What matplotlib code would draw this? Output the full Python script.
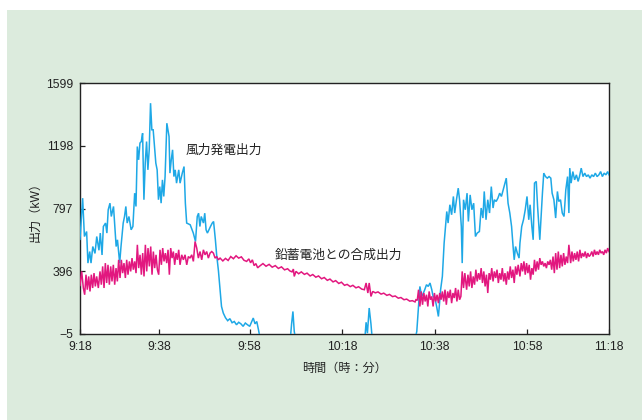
import matplotlib
matplotlib.use('Agg')
import matplotlib.pyplot as plt
from matplotlib.patches import Rectangle

plt.rcParams['font.family'] = ['Liberation Sans', 'Noto Sans CJK JP']
plt.rcParams['axes.unicode_minus'] = True

# ---------------- data ----------------
# time axis in minutes after 9:18
x_tick_pos = [0, 17.9, 38.5, 59.5, 80.5, 101.4, 120]
x_tick_labels = ['9:18', '9:38', '9:58', '10:18', '10:38', '10:58', '11:18']
y_ticks = [-5, 396, 797, 1198, 1599]

wind_t = [0, 0.6, 1.0, 1.5, 1.8, 2.2, 2.5, 2.9, 3.4, 3.8, 4.3, 4.6, 5.0, 5.3, 5.8,
          6.1, 6.4, 6.8, 7.1, 7.6, 7.9, 8.2, 8.5, 9.0, 9.3, 9.8, 10.1, 10.4, 10.7,
          11.1, 11.6, 12.0, 12.4, 12.7, 13.0, 13.3, 13.6, 13.9, 14.2, 14.5, 14.8,
          15.1, 15.4, 15.7, 16.0, 16.3, 16.6, 16.9, 17.2, 17.5, 17.8, 18.1, 18.4,
          18.7, 19.0, 19.3, 19.7, 20.2, 20.4, 20.7, 21.0, 21.3, 21.6, 21.9, 22.4,
          22.7, 23.2, 23.6, 23.9, 24.2, 25.0, 25.7, 26.2, 26.6, 26.9, 27.2, 27.5,
          28.0, 28.3, 28.6, 28.9, 29.6, 30.0, 30.3, 30.7, 31.0, 31.4, 31.7, 32.1,
          32.5, 33.0, 33.5, 34.0, 34.5, 35.0, 35.5, 36.0, 36.5, 37.0, 37.5, 38.0,
          38.5, 38.9, 39.3, 39.7, 40.1, 40.5, 40.9,
          47.7, 48.0, 48.3, 48.6, 48.9,
          64.6, 64.9, 65.2, 65.6, 66.0, 66.3,
          76.0, 76.4, 76.8, 77.1, 77.5, 77.9, 78.2, 78.6, 79.0, 79.4, 79.8, 80.1,
          80.5, 80.9, 81.3, 81.5, 81.8, 82.2, 82.6, 83.2, 83.5, 83.9, 84.3, 84.7,
          85.0, 85.4, 85.8, 86.1, 86.5, 86.7, 87.0, 87.4, 87.8, 88.1, 88.5, 88.9,
          89.3, 89.7, 90.1, 90.6, 91.0, 91.4, 91.7, 92.1, 92.5, 92.9, 93.3, 93.7,
          94.0, 94.4, 94.8, 95.2, 95.6, 96.0, 96.3, 96.7, 97.1, 97.5, 97.9, 98.3,
          98.5, 98.8, 99.2, 99.6, 99.8, 100.2, 100.6, 101.0, 101.4, 101.8, 102.1,
          102.5, 102.8, 103.1, 103.5, 103.8, 104.3, 104.6, 104.9, 105.2, 105.6,
          106.0, 106.4, 106.8, 107.1, 107.5, 107.9, 108.3, 108.6, 109.0, 109.4,
          109.8, 110.2, 110.6, 110.9, 111.1, 111.4, 111.8, 112.2, 112.6, 113.0,
          113.3, 113.7, 114.1, 114.5, 114.9, 115.3, 115.7, 116.1, 116.5, 116.9,
          117.3, 117.7, 118.1, 118.5, 118.9, 119.3, 119.7, 120.0]
wind_kw = [600, 863, 618, 650, 448, 522, 448, 554, 510, 618, 530, 640, 500, 682, 704,
           640, 789, 831, 746, 810, 682, 554, 597, 448, 554, 704, 746, 810, 704,
           746, 661, 682, 895, 810, 1193, 1108, 1215, 1225, 1278, 853, 1087,
           1225, 1044, 1172, 1470, 1300, 1300, 1193, 1087, 1044, 853, 937, 831,
           980, 874, 1001, 1342, 1257, 1023, 1108, 1172, 1001, 1044, 959, 1044,
           959, 1023, 1065, 831, 704, 693, 640, 586, 746, 767, 682, 746,
           704, 767, 661, 640, 682, 704, 714, 600, 500, 400, 299, 171,
           129, 99, 80, 93, 67, 75, 54, 70, 60, 44, 65, 54,
           44, 70, 97, 60, 75, 20, -40,
           -40, 60, 139, 12, -40,
           -40, 70, 0, 161, 60, -40,
           -40, 12, 171, 299, 235, 257, 278, 310, 299, 321, 278, 235,
           225, 171, 107, 171, 278, 363, 576, 778, 704, 821, 757, 874,
           768, 853, 927, 853, 682, 448, 853, 789, 895, 714, 884, 789,
           831, 618, 640, 650, 800, 736, 906, 725, 853, 768, 937, 800,
           853, 842, 863, 895, 874, 916, 948, 991, 831, 768, 682, 533,
           469, 554, 512, 480, 576, 682, 725, 789, 874, 725, 821,
           682, 597, 959, 970, 810, 597, 746, 895, 1023, 1001,
           991, 1001, 991, 895, 853, 736, 906, 842, 853, 768,
           746, 916, 1001, 768, 1055, 959, 1033, 980, 1012, 970,
           1001, 1055, 1001, 1023, 1001, 1012, 991, 1012, 1001, 1023,
           1001, 1012, 1033, 1001, 1023, 1012, 1033, 1012]

combined_t = [0.0, 0.38, 0.76, 1.06, 1.36, 1.66, 1.97, 2.27, 2.57, 2.87, 3.18, 3.48,
              3.78, 4.16, 4.54, 4.84, 5.14, 5.45, 5.75, 6.05, 6.35, 6.66, 6.96, 7.26,
              7.56, 7.87, 8.17, 8.47, 8.77, 9.08, 9.38, 9.68, 9.98, 10.29, 10.59,
              10.89, 11.20, 11.50, 11.80, 12.10, 12.41, 12.71, 13.01, 13.31, 13.62,
              13.92, 14.22, 14.52, 14.83, 15.13, 15.43, 15.73, 16.04, 16.34, 16.64,
              16.94, 17.25, 17.55, 17.85, 18.15, 18.46, 18.76, 19.06, 19.36, 19.67,
              19.97, 20.27, 20.57, 20.88, 21.18, 21.48, 21.79, 22.09, 22.39, 22.69,
              23.07, 23.45, 23.83, 24.21, 24.58, 24.96, 25.34, 25.72, 26.10, 26.48,
              26.85, 27.23, 27.61, 27.99, 28.37, 28.74, 29.12, 29.50, 29.88, 30.26,
              30.64, 31.01, 31.39, 31.77, 32.4, 33.0, 33.6, 34.2, 34.8, 35.4, 36.0,
              36.6, 37.2, 37.8, 38.3, 38.7, 39.1, 39.5, 39.9, 40.3, 40.8, 41.5, 42.2,
              42.9, 43.6, 44.3, 45.0, 45.7, 46.4, 47.1, 47.6, 48.1, 48.4, 48.6, 49.0,
              49.6, 50.2, 50.9, 51.5, 52.2, 52.8, 53.5, 54.1, 54.8, 55.4, 56.1, 56.7,
              57.4, 58.0, 58.7, 59.3, 60.0, 60.6, 61.3, 61.9, 62.6, 63.2, 63.9, 64.5,
              64.9, 65.3, 65.6, 66.0, 66.4, 67.0, 67.6, 68.3, 68.9, 69.6, 70.2, 70.9,
              71.5, 72.2, 72.8, 73.5, 74.1, 74.8, 75.4, 76.0, 76.2,
              76.5, 76.8, 77.1, 77.4, 77.7, 78.0, 78.3, 78.6, 78.9, 79.2, 79.5, 79.8,
              80.1, 80.4, 80.7, 81.0, 81.3, 81.6, 81.9, 82.2, 82.5, 82.8, 83.1, 83.4,
              83.7, 84.0, 84.3, 84.6, 84.9, 85.2, 85.5, 85.8, 86.1, 86.4, 86.7, 87.0,
              87.3, 87.7, 88.0, 88.3, 88.6, 88.9, 89.2, 89.5, 89.8, 90.1, 90.4, 90.7,
              91.0, 91.3, 91.6, 91.9, 92.2, 92.5, 92.8, 93.1, 93.4, 93.7, 94.0, 94.3,
              94.6, 94.9, 95.2, 95.5, 95.8, 96.1, 96.4, 96.7, 97.0, 97.3, 97.6, 97.9,
              98.2, 98.5, 98.8, 99.1, 99.4, 99.8, 100.1, 100.4, 100.7, 101.0, 101.3,
              101.6, 101.9, 102.2, 102.5, 102.8, 103.1, 103.4, 103.7, 104.0, 104.3,
              104.6, 104.9, 105.2, 105.5, 105.8, 106.1, 106.4, 106.7, 107.0, 107.3,
              107.6, 107.9, 108.2, 108.5, 108.8, 109.1, 109.4, 109.7, 110.0, 110.3,
              110.6, 110.9, 111.3, 111.6, 111.9, 112.2, 112.5, 112.8, 113.1, 113.4,
              113.7, 114.0, 114.3, 114.6, 114.9, 115.2, 115.5, 115.8, 116.1, 116.4,
              116.7, 117.0, 117.3, 117.6, 117.9, 118.2, 118.5, 118.8, 119.1, 119.4,
              119.7, 120.0]
combined_kw = [305, 395, 289, 246, 374, 278, 363, 267, 374, 289, 384, 299,
               363, 289, 395, 310, 427, 289, 448, 321, 437, 310, 427, 331,
               437, 310, 416, 331, 469, 353, 469, 384, 448, 353, 469,
               374, 459, 395, 480, 406, 459, 384, 565, 416, 501,
               374, 512, 363, 565, 395, 544, 427, 554, 374, 522,
               416, 501, 406, 374, 533, 437, 544, 459, 512, 448,
               533, 374, 544, 480, 522, 437, 512, 469, 533, 437,
               501, 469, 501, 437, 490, 480, 501, 459, 586, 544,
               480, 522, 469, 533, 501, 522, 480, 512, 522, 512,
               480, 490, 469, 480, 462, 478, 465, 490, 476, 495, 480,
               488, 466, 459, 475, 450, 469, 432, 445, 418, 430, 445, 428,
               440, 422, 432, 414, 424, 405, 412, 398, 392, 410, 363, 395,
               380, 392, 376, 384, 366, 375, 358, 366, 348, 356, 338, 346,
               328, 336, 318, 326, 306, 312, 298, 306, 290, 297, 282, 278,
               321, 257, 321, 235, 267, 258, 264, 250, 256, 242, 248, 234,
               238, 224, 228, 214, 218, 205, 208, 200, 214,
               210, 278, 171, 267, 182, 257, 203, 246, 171, 267, 214, 235,
               171, 257, 203, 246, 192, 257, 214, 267, 203, 278, 182, 267,
               225, 278, 192, 257, 225, 289, 203, 278, 214, 235, 395, 289,
               384, 278, 374, 299, 395, 289, 363, 310, 406, 331, 384, 342,
               416, 321, 395, 299, 374, 257, 384, 342, 416, 331, 395, 353,
               406, 321, 384, 342, 416, 331, 384, 310, 395, 342, 427, 353,
               406, 321, 427, 374, 437, 363, 448, 395, 459, 374, 448,
               384, 437, 342, 416, 374, 469, 395, 459, 406, 480,
               437, 459, 427, 448, 416, 459, 437, 469, 406, 490,
               384, 512, 406, 522, 416, 501, 427, 512, 437, 490,
               448, 565, 448, 522, 459, 512, 469, 522, 459, 533,
               480, 512, 490, 522, 480, 512, 490, 501, 522, 490,
               533, 501, 522, 501, 533, 512, 522, 501, 533, 512,
               544, 522]

wind_label = '風力発電出力'
combined_label = '鉛蓄電池との合成出力'
wind_label_pos = (24.0, 1165)
combined_label_pos = (44.2, 495)

# ---------------- figure ----------------
fig = plt.figure(figsize=(6.42, 4.20), dpi=100, facecolor='white')
bg = Rectangle((7 / 642, 0), 1 - 7 / 642, 410 / 420, transform=fig.transFigure,
               facecolor='#dcebdd', edgecolor='none', zorder=-10)
fig.add_artist(bg)

ax = fig.add_axes([80 / 642, 1 - 334 / 420, 529 / 642, 251 / 420])
ax.set_facecolor('white')

ax.plot(wind_t, wind_kw, color='#1ea8e6', lw=1.1, zorder=3, solid_joinstyle='miter')
ax.plot(combined_t, combined_kw, color='#e2177f', lw=1.1, zorder=4, solid_joinstyle='miter')

ax.set_xlim(0, 120)
ax.set_ylim(-5, 1599)
ax.set_xticks(x_tick_pos)
ax.set_xticklabels(x_tick_labels)
ax.set_yticks(y_ticks)
ax.set_yticklabels([str(v).replace('-', '\u2212') for v in y_ticks])
ax.tick_params(direction='in', length=3.3, width=0.9, labelsize=8.8, pad=5,
               colors='#222222', top=False, right=False)
for s in ax.spines.values():
    s.set_linewidth(1.0)
    s.set_color('#222222')

ax.set_xlabel('時間（時：分）', fontsize=8.7, labelpad=7, color='#222222')
ax.set_ylabel('出力（kW）', fontsize=8.7, labelpad=3, color='#222222')

ax.text(*wind_label_pos, wind_label, fontsize=9.2, color='#222222', va='center', ha='left')
ax.text(*combined_label_pos, combined_label, fontsize=9.2, color='#222222', va='center', ha='left')

fig.savefig('out.png', dpi=100)
